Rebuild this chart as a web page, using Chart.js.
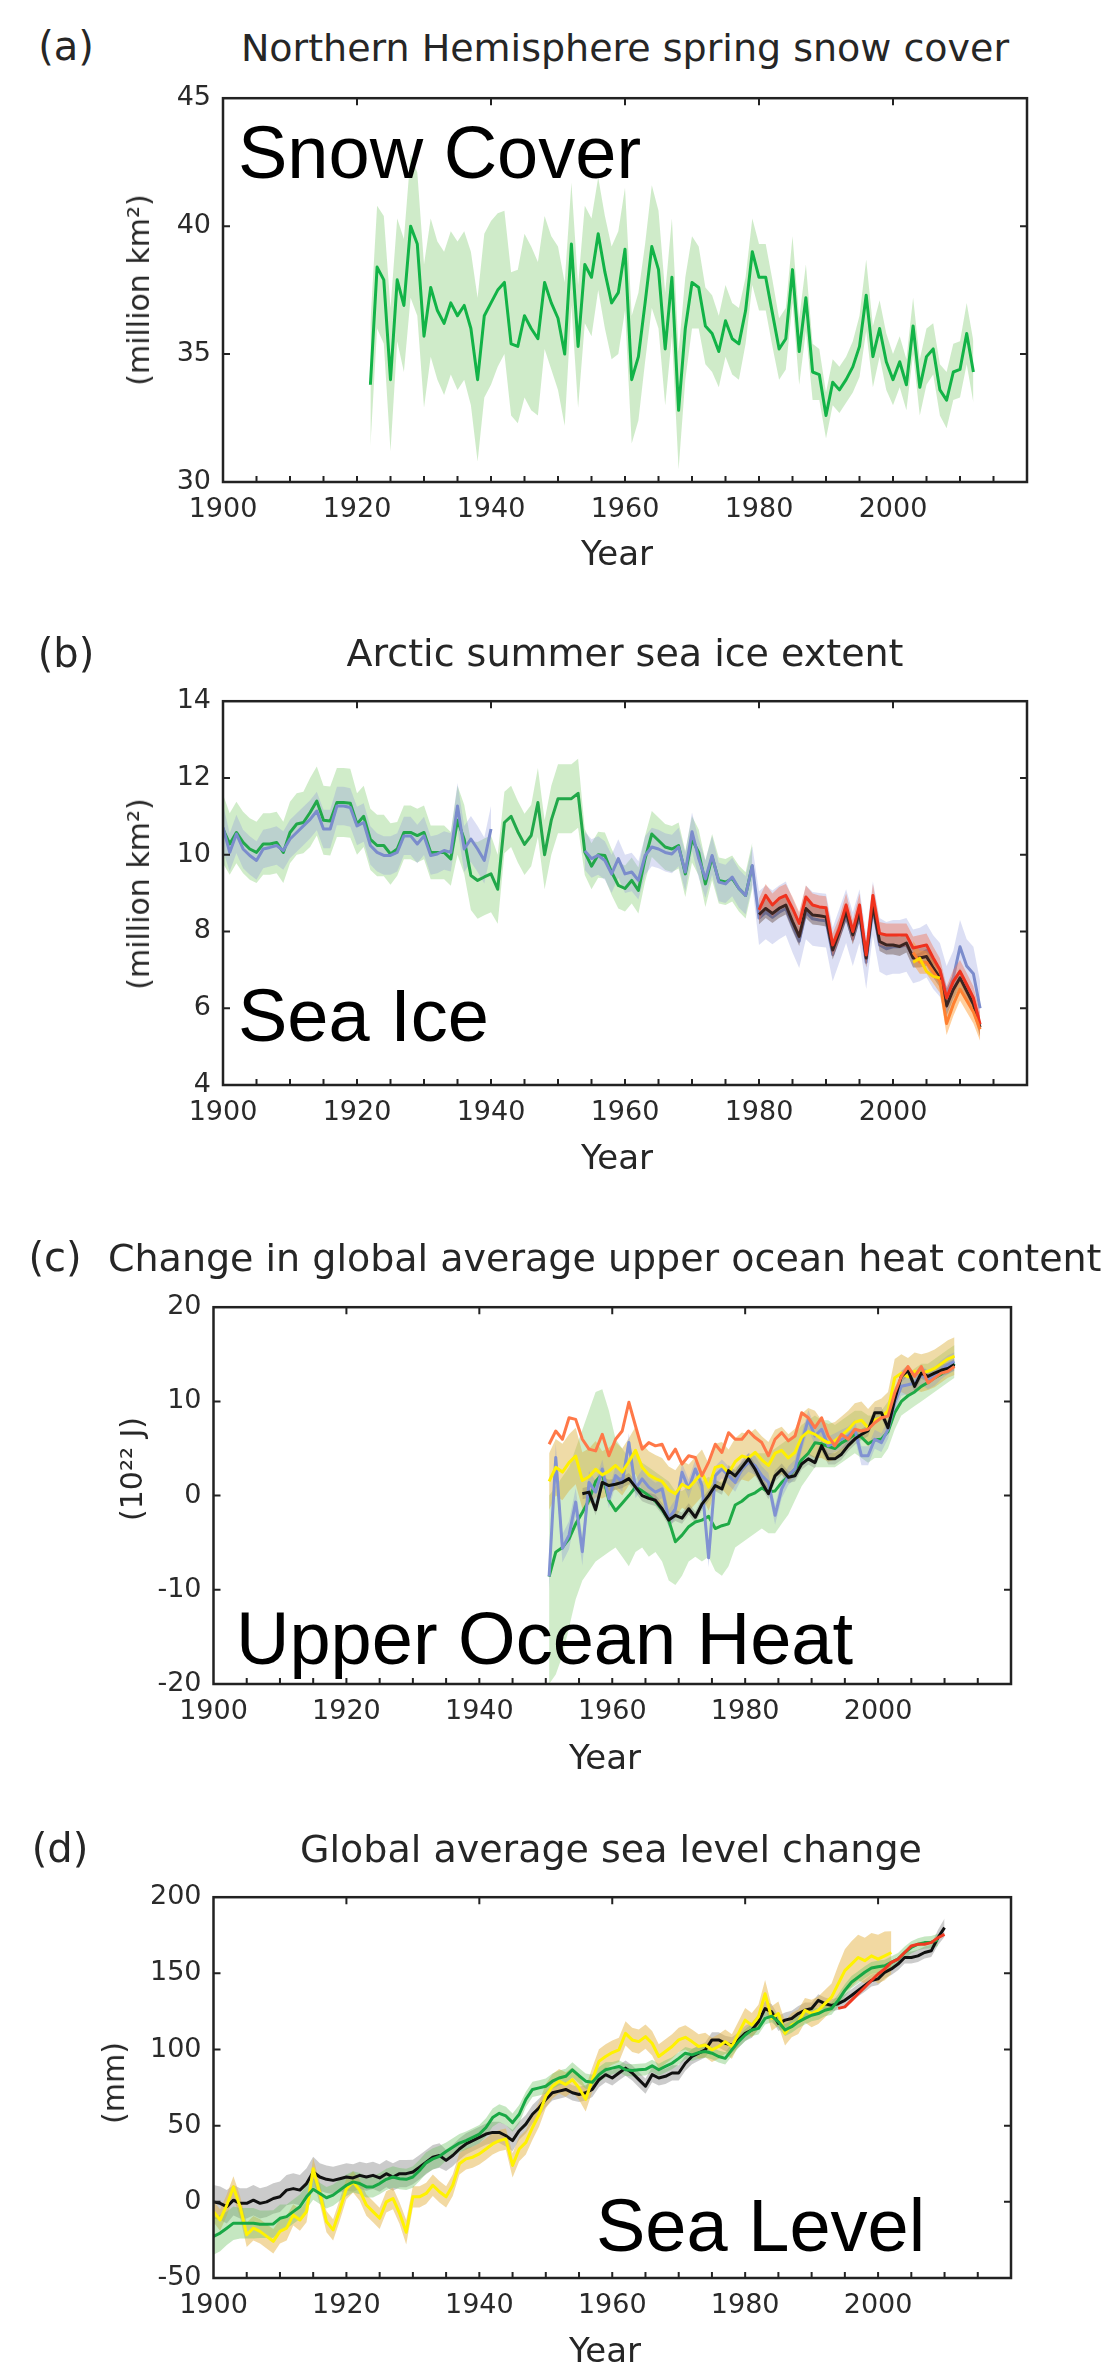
<!DOCTYPE html>
<html>
<head>
<meta charset="utf-8">
<title>Observed indicators of a changing climate</title>
<script src="https://cdn.jsdelivr.net/npm/chart.js@4.4.1/dist/chart.umd.min.js"></script>
<style>
  html, body { margin: 0; padding: 0; background: #fff; }
  body { position: relative; width: 1117px; height: 2365px; overflow: hidden;
         font-family: "DejaVu Sans", sans-serif; color: #262626; }
  canvas { position: absolute; left: 0; }
  .t { position: absolute; white-space: nowrap; line-height: 1; z-index: 2; }
  .c { transform: translateX(-50%); }
  .ttl { font-size: 38px; }
  .let { font-size: 40px; }
  .yr { font-size: 34px; }
  .yl { font-size: 30px; transform: translate(-50%, -50%) rotate(-90deg); }
  .big { font-family: "Liberation Sans", Arial, sans-serif; font-size: 74px; color: #000; }
</style>
</head>
<body>
<canvas id="cA"></canvas>
<canvas id="cB"></canvas>
<canvas id="cC"></canvas>
<canvas id="cD"></canvas>

<div class="t let c" style="left:66px;top:26px">(a)</div>
<div class="t ttl c" style="left:625px;top:29px">Northern Hemisphere spring snow cover</div>
<div class="t yl" style="left:139px;top:290px">(million km²)</div>
<div class="t yr c" style="left:617px;top:536px">Year</div>
<div class="t big" style="left:238px;top:116px">Snow Cover</div>

<div class="t let c" style="left:66px;top:633px">(b)</div>
<div class="t ttl c" style="left:625px;top:634px">Arctic summer sea ice extent</div>
<div class="t yl" style="left:139px;top:894px">(million km²)</div>
<div class="t yr c" style="left:617px;top:1140px">Year</div>
<div class="t big" style="left:238px;top:979px">Sea Ice</div>

<div class="t let c" style="left:55px;top:1237px">(c)</div>
<div class="t ttl" style="left:108px;top:1239px">Change in global average upper ocean heat content</div>
<div class="t yl" style="left:132px;top:1469px">(10²² J)</div>
<div class="t yr c" style="left:605px;top:1740px">Year</div>
<div class="t big" style="left:236px;top:1602px">Upper Ocean Heat</div>

<div class="t let c" style="left:60px;top:1828px">(d)</div>
<div class="t ttl c" style="left:611px;top:1830px">Global average sea level change</div>
<div class="t yl" style="left:114px;top:2083px">(mm)</div>
<div class="t yr c" style="left:605px;top:2333px">Year</div>
<div class="t big" style="left:596px;top:2189px">Sea Level</div>

<script>
// ---------- (a) spring snow cover, million km2, 1922-2012 ----------
const snowStart = 1922;
const snowCover = [33.8,38.4,37.9,34.0,37.9,36.9,40.0,39.3,35.7,37.6,
  36.7,36.2,37.0,36.5,36.9,36.0,34.0,36.5,37.0,37.5,
  37.8,35.4,35.3,36.5,36.0,35.6,37.8,37.0,36.4,35.0,
  39.3,35.3,38.5,38.0,39.7,38.2,37.0,37.4,39.1,34.0,
  34.9,37.0,39.2,38.3,35.2,38.0,32.8,36.0,37.8,37.6,
  36.1,35.8,35.1,36.3,35.6,35.4,36.7,39.0,38.0,38.0,
  36.6,35.2,35.6,38.3,35.1,37.2,34.3,34.2,32.6,33.9,
  33.6,34.0,34.5,35.3,37.3,34.9,36.0,34.7,34.0,34.7,
  33.8,36.1,33.7,34.9,35.2,33.6,33.2,34.3,34.4,35.8,
  34.3];
const snowErr = [2.4,2.4,2.5,2.8,2.4,2.6,2.8,2.8,2.8,2.7,
  2.7,2.8,2.8,2.9,2.9,3.0,3.2,3.2,3.2,3.0,
  2.8,2.8,3.0,3.2,3.2,3.0,2.6,2.6,2.8,2.8,
  2.4,2.4,2.3,2.3,2.2,2.2,2.2,2.4,2.4,2.5,
  2.5,2.3,2.4,2.3,2.2,2.3,2.3,2.0,1.8,1.6,
  1.5,1.5,1.4,1.4,1.4,1.4,1.3,1.3,1.3,1.3,
  1.3,1.2,1.2,1.3,1.3,1.3,1.1,1.0,0.9,0.9,
  0.9,0.9,1.0,1.2,1.4,1.2,1.1,1.1,1.0,1.0,
  1.0,1.1,1.1,1.1,1.0,1.0,1.1,1.1,1.1,1.2,
  1.2];

// ---------- (b) Arctic summer sea ice extent, million km2 ----------
const iceGreen = [10.67,10.28,10.58,10.32,10.15,10.06,10.28,10.28,10.32,10.06,
  10.58,10.80,10.84,11.10,11.40,10.90,10.88,11.36,11.36,11.34,
  10.80,11.00,10.40,10.24,10.24,10.02,10.15,10.58,10.58,10.50,
  10.58,10.06,10.06,10.06,9.89,10.90,10.40,9.46,9.33,9.42,
  9.50,9.10,10.84,11.00,10.60,10.27,10.50,11.36,10.00,10.90,
  11.46,11.46,11.46,11.60,10.07,9.70,10.00,9.98,9.55,9.20,
  9.12,9.33,9.07,9.90,10.54,10.37,10.20,10.15,10.24,9.50,
  10.40,10.06,9.24,9.94,9.33,9.29,9.38,9.12,8.94,9.72];        // 1900-1979
const iceGreenErr = [0.9,0.8,0.8,0.8,0.8,0.8,0.8,0.8,0.8,0.8,
  0.8,0.8,0.8,0.9,0.9,0.9,0.9,0.9,0.9,0.9,
  0.8,0.8,0.8,0.8,0.8,0.8,0.7,0.7,0.7,0.7,
  0.7,0.7,0.7,0.7,0.7,0.9,0.9,0.9,1.0,1.0,
  1.0,0.9,0.8,0.8,0.8,0.8,0.8,0.9,0.9,0.9,
  0.9,0.9,0.9,0.9,0.6,0.6,0.6,0.6,0.6,0.6,
  0.6,0.6,0.6,0.6,0.6,0.6,0.6,0.6,0.6,0.6,
  0.6,0.6,0.6,0.6,0.6,0.6,0.6,0.6,0.6,0.6];
const iceBlueEarly = [10.71,10.06,10.54,10.15,9.98,9.85,10.15,10.19,10.24,10.11,
  10.41,10.58,10.75,10.92,11.14,10.67,10.67,11.27,11.27,11.23,
  10.75,10.84,10.24,10.06,9.98,9.98,10.06,10.49,10.49,10.28,
  10.49,9.98,10.02,10.11,10.06,11.27,10.15,10.41,10.15,9.85,
  10.67];                                                       // 1900-1940
const iceBlueEarlyErr = [0.6,0.5,0.5,0.5,0.5,0.5,0.5,0.5,0.5,0.5,
  0.5,0.5,0.5,0.5,0.5,0.5,0.5,0.5,0.5,0.5,
  0.5,0.5,0.5,0.5,0.5,0.5,0.5,0.5,0.5,0.5,
  0.5,0.5,0.5,0.5,0.5,0.6,0.6,0.6,0.6,0.6,
  0.6];
const iceBlueLate = [10.1,9.9,9.98,9.85,9.5,9.9,9.5,9.55,9.33,9.98,
  10.2,10.15,10.06,10.02,10.2,9.55,10.6,9.9,9.37,9.98,
  9.29,9.24,9.42,9.12,8.94,9.72,
  8.35,8.5,8.37,8.5,8.6,8.15,7.75,8.5,8.33,8.3,
  8.28,7.4,7.9,8.4,7.8,8.4,7.2,8.6,7.65,7.55,
  7.6,7.6,7.65,7.35,7.4,7.5,7.2,7.0,6.4,6.8,
  7.6,7.1,6.9,6.0];                                             // 1954-2013
const iceBlueLateErr = [0.5,0.5,0.5,0.5,0.5,0.5,0.5,0.5,0.5,0.5,
  0.5,0.5,0.5,0.5,0.5,0.5,0.5,0.5,0.5,0.5,
  0.5,0.5,0.5,0.5,0.5,0.5,
  0.7,0.7,0.7,0.7,0.7,0.7,0.7,0.7,0.7,0.7,
  0.7,0.7,0.7,0.7,0.7,0.7,0.7,0.7,0.7,0.7,
  0.7,0.7,0.7,0.7,0.7,0.7,0.7,0.7,0.7,0.7,
  0.7,0.7,0.7,0.7];
const iceBlack = [8.44,8.6,8.47,8.6,8.69,8.26,7.87,8.6,8.43,8.41,
  8.38,7.52,8.0,8.51,7.91,8.51,7.31,8.69,7.74,7.65,
  7.65,7.61,7.7,7.31,7.31,7.35,7.05,6.79,6.06,6.49,
  6.79,6.45,6.1,5.5];                                           // 1980-2013
const iceBlackErr = [0.25,0.25,0.25,0.25,0.25,0.25,0.25,0.25,0.25,0.25,
  0.25,0.25,0.25,0.25,0.25,0.25,0.25,0.25,0.25,0.25,
  0.25,0.25,0.25,0.25,0.25,0.25,0.25,0.25,0.25,0.25,
  0.25,0.25,0.25,0.25];
const iceRed = [8.56,8.94,8.69,8.86,8.94,8.6,8.21,8.9,8.69,8.64,
  8.62,7.65,8.08,8.69,8.0,8.69,7.39,8.94,7.95,7.91,
  7.91,7.91,7.91,7.57,7.61,7.65,7.31,7.0,6.27,6.7,
  6.96,6.62,6.27,5.58];                                         // 1980-2013
const iceRedErr = [0.3,0.3,0.3,0.3,0.3,0.3,0.3,0.3,0.3,0.3,
  0.3,0.3,0.3,0.3,0.3,0.3,0.3,0.3,0.3,0.3,
  0.3,0.3,0.3,0.3,0.3,0.3,0.3,0.3,0.3,0.3,
  0.3,0.3,0.3,0.3];
const iceOrange = [7.45,7.2,7.2,6.95,6.7,5.6,6.1,6.5,6.2,5.9,5.45];   // 2003-2013
const iceOrangeErr = [0.3,0.3,0.3,0.3,0.3,0.3,0.3,0.3,0.3,0.3,0.3];
const iceYellow = [7.2,7.3,6.96,6.83,6.79];                             // 2003-2007

// ---------- (c) upper ocean heat content, 10^22 J (annual means, mid-year) ----------
const ohcOrange = [5.45,6.86,5.98,8.26,8.09,5.98,4.93,4.75,6.51,4.23,
  5.98,6.86,9.91,7.39,4.93,5.63,5.28,5.45,3.88,4.93,
  3.35,4.23,4.05,2.12,3.53,5.45,4.58,6.68,5.98,5.98,
  6.86,6.16,5.63,4.23,5.98,6.68,5.81,6.33,8.79,8.26,
  7.21,8.26,6.33,5.28,6.51,5.98,7.04,6.86,7.04,7.74,
  8.26,8.44,10.89,12.65,13.7,12.65,13.7,11.95,12.47,13.0,
  13.2,13.7];                                                   // 1950-2011
const ohcBlue = [-8.58,4.05,-5.6,-4.2,-0.69,-5.95,1.4,0.37,2.82,-0.33,
  2.12,1.4,5.63,0.72,1.77,0.9,0.37,0.72,-2.44,-1.4,
  2.47,0.72,2.82,1.07,-6.6,2.12,2.82,2.12,1.4,2.82,
  3.53,3.18,2.12,1.4,-2.09,0.72,2.12,2.82,5.63,8.09,
  6.33,7.04,5.28,5.63,5.98,6.33,7.04,4.23,4.23,5.98,
  5.63,7.04,9.84,11.6,11.77,11.95,12.82,12.3,12.65,13.35,
  13.88,14.23];                                                 // 1950-2011
const ohcBlueErr = [1.5,1.5,1.5,1.5,1.5,1.5,1.2,1.2,1.0,1.0,
  1.0,1.0,1.0,1.0,1.0,1.0,1.0,1.0,1.0,1.0,
  1.0,1.0,1.0,1.0,1.0,1.0,1.0,1.0,1.0,1.0,
  1.0,1.0,1.0,1.0,1.0,1.0,1.0,1.0,1.0,1.0,
  1.0,1.0,1.0,1.0,1.0,1.0,1.0,1.0,1.0,1.0,
  1.0,1.0,1.0,1.0,1.0,1.0,1.0,1.0,1.0,1.0,
  1.0,1.0];
const ohcYellow = [1.5,3.0,2.5,3.5,4.2,1.6,2.0,2.8,2.2,2.6,
  3.2,2.5,3.6,4.8,3.0,2.2,1.8,1.5,0.6,0.2,
  1.2,0.8,1.6,2.4,0.9,3.0,3.2,2.4,3.6,4.2,
  4.0,4.6,3.8,3.2,4.5,4.8,4.0,4.6,6.2,6.8,
  6.5,6.0,5.6,5.8,6.4,7.0,7.8,8.0,7.2,8.0,
  8.3,9.0,12.5,13.0,12.6,13.2,13.0,13.2,13.5,14.0,
  14.5,14.8];                                                   // 1950-2011
const ohcYellowErr = [3,3,3,3,3,3,3,3,2.5,2.5,
  2.5,2.5,2.5,2.5,2.5,2.5,2.5,2.5,2.5,2.5,
  2.5,2.5,2.5,2.5,2.5,2.5,2.5,2.5,2.5,2.5,
  2.5,2.5,2.5,2.5,2.5,2.5,2.5,2.5,2.5,2.5,
  2.5,2,2,2,2,2,2,2,2,2,
  2,2,2,2,2,2,2,2,2,2,
  2,2];
const ohcBlack = [0.2,0.37,-1.5,1.4,1.07,1.2,1.4,1.8,0.9,0.0,
  -0.3,-0.5,-1.4,-2.6,-2.1,-2.4,-1.4,-2.3,-0.9,0.0,
  1.07,0.7,2.65,2.1,3.0,3.9,2.8,1.4,0.2,2.1,
  2.8,1.95,2.1,3.35,3.9,3.5,5.3,3.9,3.9,4.4,
  5.3,6.0,6.5,6.9,8.8,8.8,7.2,10.2,12.65,13.3,
  11.6,13.0,12.65,13.0,13.3,13.5,13.9];                         // 1955-2011
const ohcBlackErr = [0.6,0.6,0.6,0.6,0.6,0.6,0.6,0.6,0.6,0.6,
  0.6,0.6,0.6,0.6,0.6,0.6,0.6,0.6,0.6,0.6,
  0.6,0.6,0.6,0.6,0.6,0.6,0.6,0.6,0.6,0.6,
  0.6,0.6,0.6,0.6,0.6,0.6,0.6,0.6,0.6,0.6,
  0.6,0.6,0.6,0.6,0.6,0.6,0.6,0.6,0.6,0.6,
  0.6,0.6,0.6,0.6,0.6,0.6,0.6];
const ohcGreen = [-8.6,-6.0,-5.5,-4.6,-3.0,-1.8,-0.5,1.5,2.3,-0.5,
  -1.6,-0.8,0.0,0.9,0.5,0.0,-0.6,-1.5,-2.6,-4.9,
  -4.2,-3.3,-2.8,-2.6,-2.2,-3.5,-3.2,-3.0,-1.0,-0.6,
  0.0,0.3,0.8,0.4,0.5,1.4,2.0,2.8,3.8,4.5,
  5.6,5.5,5.2,5.0,5.6,6.0,6.5,6.2,5.5,5.9,
  6.0,6.8,8.8,10.0,10.6,11.0,11.6,12.0,12.5,12.9,
  13.4,14.0];                                                   // 1950-2011
const ohcGreenLo = [-20,-19,-17,-14,-11,-9,-8,-7,-6.5,-6,
  -5.5,-6.5,-7.5,-6,-5.5,-6.5,-6,-7,-9,-9.5,
  -8.5,-7,-6.5,-7,-6.5,-8,-8.5,-7.5,-5.5,-5,
  -4.5,-4,-3.5,-4,-4,-3,-2,-0.5,1,2,
  3,3,3,3,3.5,4,4.5,4,3.5,4,
  4,5,7,8.5,9,9.5,10,10.5,11,11.5,
  12,12.5];
const ohcGreenHi = [0,1,2,3,5,7,9,11,11.3,9,
  6,5,4,4.5,3.5,3,2.5,2,1.5,0.5,
  0.5,1,1.5,1.5,2,1.5,1.5,2,3,3.5,
  4,4.5,4.5,4.5,5,5.5,6,6.5,7.5,8,
  8.5,8,8,7.5,8,8.5,9,9,8.5,8.5,
  9,10,11.5,12.5,13,13.5,14,14,14.5,15,
  15.5,16];

// ---------- (d) global mean sea level, mm ----------
const slGreen = [-22.7,-20.5,-17.3,-14,-14,-14,-14,-14.7,-14.7,-14.5,
  -10.8,-9.7,-6.4,-3.2,3.3,8.3,5.5,2.7,4.4,7.7,
  10.9,13.1,12,9.8,9.8,12,14.8,16.3,15.2,14.8,
  16.3,20.6,25.6,28.2,29.9,33,35.8,38.6,40.2,42.3,
  44.5,48.8,55.3,58.1,56.4,52,57.5,67.3,73.8,74.8,
  75.9,79.2,81.3,82.4,86.7,82.8,79.2,78.5,83.5,86.7,
  87.8,88.9,86.7,86.3,86.7,87,89.3,86.7,88.9,91,
  94.2,97.6,96.5,98,98.7,97.6,95.4,94.2,99.8,105.2,
  109.5,112.8,113.9,120.4,121.9,118.2,112.8,115,118.2,120.4,
  122.5,123.6,125.8,126.9,132.3,138.8,144.2,147.4,150.7,153.5,
  154.4,155,157.2,159.4,163.7,167,169.1,170.2,170.5,172];    // 1900-2009
const slGreenErr = [12,12,11,11,10,10,10,9,9,9,
  9,8,8,8,8,7,7,7,7,7,
  7,7,7,7,7,7,7,7,7,7,
  7,7,7,7,7,6,6,6,6,6,
  6,6,6,6,6,6,6,5,5,5,
  5,5,5,5,5,5,5,5,5,5,
  4,4,4,4,4,4,4,4,4,4,
  4,4,4,4,4,4,4,4,4,4,
  4,4,4,4,4,4,4,4,4,4,
  4,4,4,4,4,4,4,4,4,4,
  4,4,4,4,4,4,4,4,4,4];
const slYellow = [-6.4,-11.9,-2.1,9.8,-3.2,-21.6,-17.3,-19.4,-22.7,-25.9,
  -19.4,-17.3,-8.6,-11.9,-6.4,21.7,5.5,-13,-18.4,-5.4,
  8.7,13.1,7.7,-2.1,-6.4,-10.8,0,2.2,-7.5,-20,
  3.3,3.3,5.5,10.9,6.6,3.3,10.9,25,28.2,29.3,
  31.5,34.7,38,40.2,41.2,23.9,34.7,39,48.8,57.5,
  69.4,75.9,79.2,77,80.2,74.8,67.3,80.2,92.2,95.4,
  98,99.8,110.6,106.3,105.2,108.5,104.1,95.4,98.7,102,
  106.3,108,105.2,102,103,99.8,102,105.2,102,110.6,
  119.3,116,121.4,136.6,120.4,123.6,110.6,116,118.2,125.8,
  123.6,125.8,130.1,134.4,143.1,151.8,156.1,160.4,158.3,161.5,
  159.4,161.5,163.7];                                           // 1900-2002
const slYellowErr = [7,7,7,7,7,8,8,8,8,8,
  8,8,7,7,7,7,7,7,7,7,
  7,7,7,7,7,7,7,7,7,8,
  7,7,7,7,7,7,7,7,7,7,
  7,7,7,7,7,8,8,8,8,8,
  8,8,8,8,8,8,8,8,8,8,
  8,8,8,8,8,8,8,8,8,8,
  8,8,8,8,8,8,8,8,8,8,
  8,8,8,9,8,8,8,8,8,8,
  9,9,9,9,12,14,15,15,15,15,
  16,16,14];
const slBlack = [0,-1,-3.2,1.1,-1,-1,1.1,-1,0,2.2,
  3.3,7.7,8.7,7.7,12,19.6,16.3,14.8,14.1,15.2,
  16.3,15.7,17.4,16.3,17.4,15.7,18.5,16.3,18.5,18.5,
  19.6,22.8,26.1,29.3,30.4,27.2,30.4,34.7,38,40.2,
  42.3,44.5,45.6,45.6,43.4,40.2,46.7,51,57.5,61.8,
  67.3,71.6,72.7,73.8,71.6,70.5,71.6,73.8,80.2,83.5,
  81.3,84.6,87.8,84.6,80.2,75.9,83.5,81.3,82.4,84.6,
  84.6,91,95.4,97.6,99.8,106.3,106.3,104.1,103,106.3,
  110.6,112.8,118.2,126.9,124.7,117.1,119.3,120.4,123.6,125.8,
  126.9,132.3,130.1,129,130.1,132.3,135.5,138.8,142,145.3,
  146.4,150.7,152.9,156.1,160.4,160.4,161.5,163.7,164.8,173.4,
  180];                                                         // 1900-2010
const slBlackErr = [11,11,11,10,10,10,10,10,10,10,
  10,10,10,10,10,10,9,9,9,9,
  9,9,9,9,9,9,9,9,9,9,
  8,8,8,8,8,7,7,7,7,7,
  7,7,7,7,7,7,6,6,6,6,
  5,5,5,5,5,5,5,5,5,5,
  5,5,5,5,5,5,5,5,5,5,
  5,5,5,5,5,5,5,5,5,5,
  5,5,5,5,5,5,5,5,5,5,
  4,4,4,4,4,4,4,4,4,4,
  4,4,4,4,4,4,4,4,4,5,
  6];
const slRed = [127,128,132.3,136.6,140.9,145.3,149.6,152.9,157.2,159.4,
  163.7,168,169.1,169.1,170.2,173.4,175.6];                     // 1994-2010

// ---------- helpers ----------
function pts(start, vals, shift) {
  return vals.map((v, i) => ({x: start + i + (shift || 0), y: v}));
}
function band(start, lo, hi, color, shift) {
  return [
    {data: pts(start, lo, shift), borderWidth: 0, borderColor: 'transparent', pointRadius: 0, fill: false},
    {data: pts(start, hi, shift), borderWidth: 0, borderColor: 'transparent', pointRadius: 0, fill: '-1', backgroundColor: color}
  ];
}
function spread(start, mid, err, color, shift) {
  return band(start, mid.map((v, i) => v - err[i]), mid.map((v, i) => v + err[i]), color, shift);
}
function line(start, vals, color, shift) {
  return {data: pts(start, vals, shift), borderColor: color, borderWidth: 3, pointRadius: 0,
          fill: false, tension: 0, borderJoinStyle: 'round'};
}

// box and inward tick marks, like the original figure
const frame = {
  id: 'frame',
  afterDatasetsDraw(chart) {
    const {ctx, chartArea: a, scales: {x, y}} = chart;
    ctx.save();
    ctx.strokeStyle = '#222';
    ctx.lineWidth = 2.5;
    ctx.strokeRect(a.left, a.top, a.right - a.left, a.bottom - a.top);
    ctx.lineWidth = 2;
    ctx.beginPath();
    for (let v = 1905; v < 2020; v += 5) {
      const px = x.getPixelForValue(v);
      ctx.moveTo(px, a.bottom); ctx.lineTo(px, a.bottom - 6);
    }
    for (let v = 1920; v < 2020; v += 20) {
      const px = x.getPixelForValue(v);
      ctx.moveTo(px, a.top); ctx.lineTo(px, a.top + 7);
    }
    y.ticks.slice(1, -1).forEach(t => {
      const py = y.getPixelForValue(t.value);
      ctx.moveTo(a.left, py); ctx.lineTo(a.left + 7, py);
      ctx.moveTo(a.right, py); ctx.lineTo(a.right - 7, py);
    });
    ctx.stroke();
    ctx.restore();
  }
};

const tickFont = {family: 'DejaVu Sans', size: 27};

function makeChart(id, box, yMin, yMax, yStep, sets) {
  const padTop = 25, axisH = 60;
  const cv = document.getElementById(id);
  cv.width = 1117;
  cv.height = box.bottom - box.top + padTop + axisH;
  cv.style.top = (box.top - padTop) + 'px';
  // first entry is drawn at the bottom
  sets.forEach((d, i) => { d.order = sets.length - i; });
  return new Chart(cv, {
    type: 'line',
    data: {datasets: sets},
    options: {
      responsive: false,
      animation: false,
      devicePixelRatio: 1,
      layout: {padding: {left: 0, right: 1117 - box.right, top: padTop, bottom: 0}},
      plugins: {legend: {display: false}, tooltip: {enabled: false}},
      scales: {
        x: {
          type: 'linear', min: 1900, max: 2020,
          grid: {display: false, drawTicks: false}, border: {display: false},
          ticks: {stepSize: 20, padding: 12, color: '#2a2a2a', font: tickFont, maxRotation: 0,
                  autoSkip: false, callback: v => (v < 2020 ? String(v) : '')},
          afterFit: s => { s.height = axisH; }
        },
        y: {
          min: yMin, max: yMax,
          grid: {display: false, drawTicks: false}, border: {display: false},
          ticks: {stepSize: yStep, padding: 12, color: '#2a2a2a', font: tickFont,
                  callback: v => String(v)},
          afterFit: s => { s.width = box.left; }
        }
      }
    },
    plugins: [frame]
  });
}

// (a)
makeChart('cA', {left: 223, right: 1027, top: 95, bottom: 482}, 30, 45, 5, [
  ...spread(snowStart, snowCover, snowErr, 'rgba(110,195,90,0.33)'),
  line(snowStart, snowCover, '#12b347')
]);

// (b)
makeChart('cB', {left: 223, right: 1027, top: 698, bottom: 1085}, 4, 14, 2, [
  ...spread(1900, iceGreen, iceGreenErr, 'rgba(120,200,100,0.35)'),
  ...spread(1900, iceBlueEarly, iceBlueEarlyErr, 'rgba(140,150,220,0.3)'),
  ...spread(1954, iceBlueLate, iceBlueLateErr, 'rgba(140,150,220,0.3)'),
  line(1900, iceGreen, '#22a84a'),
  line(1900, iceBlueEarly, '#7b8ccc'),
  line(1954, iceBlueLate, '#7b8ccc'),
  ...spread(1980, iceBlack, iceBlackErr, 'rgba(90,60,50,0.4)'),
  ...spread(1980, iceRed, iceRedErr, 'rgba(240,120,90,0.45)'),
  ...spread(2003, iceOrange, iceOrangeErr, 'rgba(255,150,40,0.45)'),
  line(1980, iceBlack, '#3b2420'),
  line(1980, iceRed, '#f0321e'),
  line(2003, iceOrange, '#ff8030'),
  line(2003, iceYellow, '#ffd800')
]);

// (c) values are annual means, placed mid-year
makeChart('cC', {left: 213.5, right: 1011, top: 1303.5, bottom: 1683.5}, -20, 20, 10, [
  ...band(1950, ohcGreenLo, ohcGreenHi, 'rgba(120,200,100,0.35)', 0.5),
  ...spread(1950, ohcYellow, ohcYellowErr, 'rgba(220,175,60,0.45)', 0.5),
  ...spread(1950, ohcBlue, ohcBlueErr, 'rgba(130,145,215,0.3)', 0.5),
  ...spread(1955, ohcBlack, ohcBlackErr, 'rgba(100,100,100,0.25)', 0.5),
  line(1950, ohcGreen, '#1faa46', 0.5),
  line(1950, ohcBlue, '#8192d2', 0.5),
  line(1950, ohcYellow, '#fff000', 0.5),
  line(1955, ohcBlack, '#111', 0.5),
  line(1950, ohcOrange, '#ff7848', 0.5)
]);

// (d)
makeChart('cD', {left: 213.5, right: 1011, top: 1894, bottom: 2278}, -50, 200, 50, [
  ...spread(1900, slBlack, slBlackErr, 'rgba(140,140,140,0.45)'),
  ...spread(1900, slYellow, slYellowErr, 'rgba(230,180,70,0.5)'),
  ...spread(1900, slGreen, slGreenErr, 'rgba(110,195,100,0.4)'),
  line(1900, slBlack, '#111'),
  line(1900, slYellow, '#fff200'),
  line(1900, slGreen, '#18a845'),
  line(1994, slRed, '#f03a22')
]);
</script>
</body>
</html>
